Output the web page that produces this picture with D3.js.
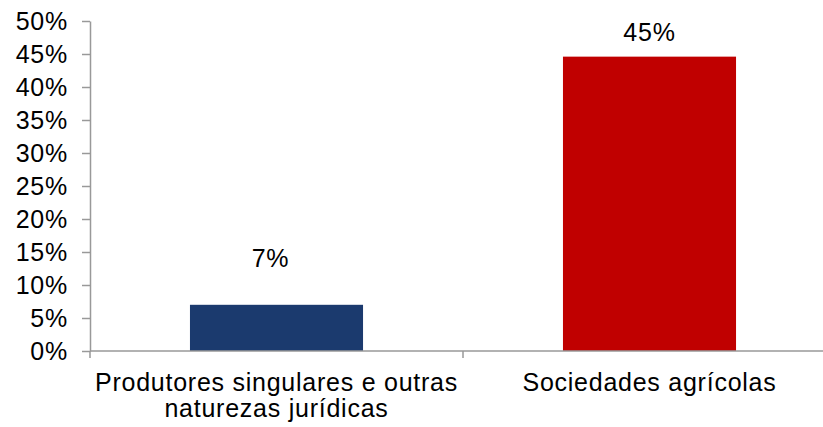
<!DOCTYPE html>
<html><head><meta charset="utf-8">
<script src="https://cdn.jsdelivr.net/npm/d3@7"></script>
<style>body{margin:0;background:#fff}svg{display:block}text{font-family:"Liberation Sans",Arial,sans-serif;fill:#000;letter-spacing:0.75px}</style>
</head><body><svg id="c" width="823" height="427"></svg>
<script>
const categories = [["Produtores singulares e outras", "naturezas jurídicas"], ["Sociedades agrícolas"]];
const values = [7.0, 44.6];
const valueLabels = ["7%", "45%"];
const barColors = ["#1b3a6e", "#c00000"];
const yTicks = [0, 5, 10, 15, 20, 25, 30, 35, 40, 45, 50];

(function () {
const svg = d3.select("#c");
const mLeft = 90, mRight = 836, mTop = 21, mBottom = 351;
const fs = 25;
const x = d3.scaleBand().domain(d3.range(values.length)).range([mLeft, mRight]).paddingInner(0.536).paddingOuter(0.268);
const y = d3.scaleLinear().domain([0, 50]).range([mBottom, mTop]);
const grey = "#999";

// bars
svg.selectAll("rect.bar").data(values).enter().append("rect")
  .attr("x", (d, i) => x(i)).attr("width", x.bandwidth())
  .attr("y", d => y(d)).attr("height", d => y(0) - y(d))
  .attr("fill", (d, i) => barColors[i]);

// y axis
const yAxis = d3.axisLeft(y).tickValues(yTicks).tickFormat(d => d + "%").tickSize(8).tickPadding(14).tickSizeOuter(0);
const gy = svg.append("g").attr("transform", `translate(${mLeft},0)`).call(yAxis);
gy.select(".domain").attr("stroke", grey).attr("stroke-width", 1.5);
gy.selectAll(".tick line").attr("stroke", grey).attr("stroke-width", 1.5);
gy.selectAll(".tick text").attr("font-size", fs).attr("font-family", "Liberation Sans, Arial, sans-serif").attr("fill", "#000").attr("dy", "0.34em");

// x axis line and boundary ticks
svg.append("line").attr("x1", mLeft).attr("x2", mRight).attr("y1", y(0)).attr("y2", y(0)).attr("stroke", grey).attr("stroke-width", 1.5);
const bounds = d3.range(values.length + 1).map(i => mLeft + i * x.step());
svg.selectAll("line.xt").data(bounds).enter().append("line")
  .attr("x1", d => d).attr("x2", d => d).attr("y1", y(0)).attr("y2", y(0) + 7)
  .attr("stroke", grey).attr("stroke-width", 1.5);

// category labels
categories.forEach((lines, i) => {
  const cx = x(i) + x.bandwidth() / 2;
  const t = svg.append("text").attr("text-anchor", "middle").attr("font-size", fs)
    .attr("x", cx).attr("y", 391);
  lines.forEach((l, j) => t.append("tspan").attr("x", cx).attr("dy", j ? 26 : 0).text(l));
});

// value labels (positions as in the original)
const labelRise = [38, 16];
const labelShift = [-6, 0];
svg.selectAll("text.vl").data(values).enter().append("text")
  .attr("text-anchor", "middle").attr("font-size", fs)
  .attr("x", (d, i) => x(i) + x.bandwidth() / 2 + labelShift[i])
  .attr("y", (d, i) => y(d) - labelRise[i])
  .text((d, i) => valueLabels[i]);
})();
</script></body></html>
